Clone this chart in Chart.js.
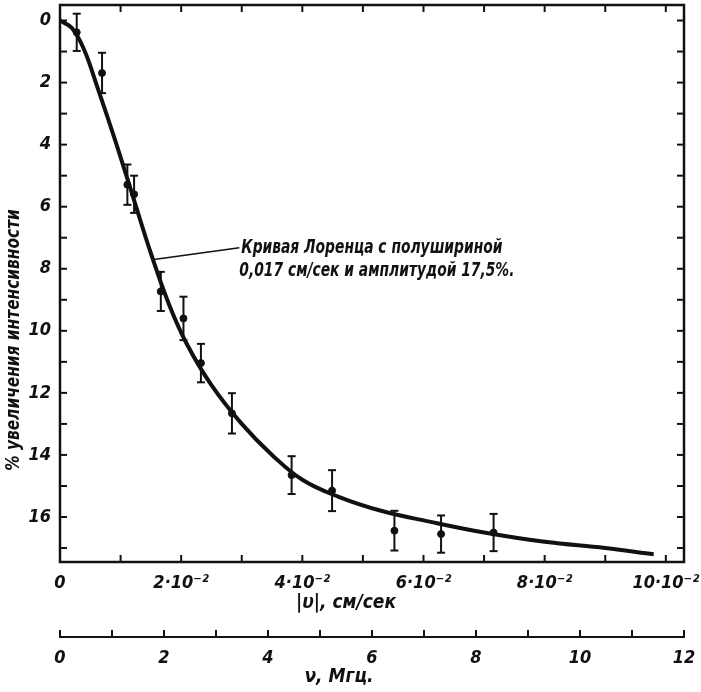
<!DOCTYPE html>
<html>
<head>
<meta charset="utf-8">
<script src="https://cdn.jsdelivr.net/npm/chart.js@4.4.1/dist/chart.umd.min.js"></script>
<style>
  html, body { margin: 0; padding: 0; background: #fff; }
  canvas { display: block; }
</style>
</head>
<body>
<canvas id="chart" width="701" height="692"></canvas>
<script>
// measured points: |v| (cm/sec) and % increase of intensity, with error half-widths
const pointX = [0.00276, 0.00694, 0.01112, 0.01223, 0.01664, 0.02038, 0.02326, 0.02838, 0.03823, 0.04491, 0.0552, 0.0629, 0.07157];
const pointY = [0.38, 1.69, 5.29, 5.6, 8.73, 9.6, 11.04, 12.66, 14.65, 15.15, 16.44, 16.55, 16.5];
const pointErr = [0.6, 0.65, 0.65, 0.6, 0.63, 0.7, 0.62, 0.65, 0.61, 0.66, 0.64, 0.6, 0.6];

// Lorentz curve
const curveX = [0, 0.002, 0.004, 0.006, 0.009, 0.012, 0.015, 0.018, 0.021, 0.025, 0.030, 0.035, 0.040, 0.046, 0.053, 0.061, 0.070, 0.080, 0.090, 0.098];
const curveY = [0, 0.25, 0.95, 2.05, 3.8, 5.65, 7.5, 9.15, 10.45, 11.75, 13.0, 14.0, 14.8, 15.35, 15.8, 16.15, 16.5, 16.8, 17.0, 17.2];

// axes
const velTicks = [0, 0.01, 0.02, 0.03, 0.04, 0.05, 0.06, 0.07, 0.08, 0.09, 0.10];
const velLabels = ['0', '', '2·10⁻²', '', '4·10⁻²', '', '6·10⁻²', '', '8·10⁻²', '', '10·10⁻²'];
const pctTicks = [0, 1, 2, 3, 4, 5, 6, 7, 8, 9, 10, 11, 12, 13, 14, 15, 16, 17];
const pctLabels = ['0', '', '2', '', '4', '', '6', '', '8', '', '10', '', '12', '', '14', '', '16', ''];
const mhzTicks = [0, 1, 2, 3, 4, 5, 6, 7, 8, 9, 10, 11, 12];
const mhzLabels = ['0', '', '2', '', '4', '', '6', '', '8', '', '10', '', '12'];

const FAMILY = "'Liberation Sans Narrow', 'DejaVu Sans Condensed', 'Liberation Sans', sans-serif";
const INK = '#111';
const tickFont = { family: FAMILY, size: 18, weight: 'bold', style: 'italic' };

const setTicks = (values) => (scale) => { scale.ticks = values.map(v => ({ value: v })); };
// fixed box sizes, and no extra room for overhanging labels
const fixSize = (w, h) => (s) => {
    if (w) s.width = w;
    if (h) s.height = h;
    s.paddingLeft = s.paddingRight = s.paddingTop = s.paddingBottom = 0;
};

// narrow italic text
function narrowText(ctx, text, x, y, squeeze) {
    ctx.save();
    ctx.translate(x, y);
    ctx.scale(squeeze, 1);
    ctx.fillText(text, 0, 0);
    ctx.restore();
}

const framePlugin = {
    id: 'frame',
    afterDatasetsDraw(chart) {
        const { ctx, chartArea: a, scales: { x, y, x2 } } = chart;
        const line = (x1, y1, xx, yy) => { ctx.beginPath(); ctx.moveTo(x1, y1); ctx.lineTo(xx, yy); ctx.stroke(); };
        ctx.save();
        ctx.strokeStyle = INK;
        ctx.fillStyle = INK;

        // error bars
        ctx.lineWidth = 2;
        pointX.forEach((v, i) => {
            const px = x.getPixelForValue(v);
            const y1 = y.getPixelForValue(pointY[i] - pointErr[i]);
            const y2 = y.getPixelForValue(pointY[i] + pointErr[i]);
            line(px, y1, px, y2);
            line(px - 4, y1, px + 4, y1);
            line(px - 4, y2, px + 4, y2);
        });

        // frame with inward ticks
        ctx.lineWidth = 2.5;
        ctx.strokeRect(a.left, a.top, a.width, a.height);
        ctx.lineWidth = 2;
        velTicks.forEach(v => {
            const px = x.getPixelForValue(v);
            line(px, a.bottom, px, a.bottom - 7);
            line(px, a.top, px, a.top + 7);
        });
        pctTicks.forEach(v => {
            const py = y.getPixelForValue(v);
            line(a.left, py, a.left + 7, py);
            line(a.right, py, a.right - 7, py);
        });

        // frequency scale
        const ly = x2.top + 23;
        line(x2.getPixelForValue(0) - 1, ly, x2.getPixelForValue(12) + 1, ly);
        mhzTicks.forEach(v => {
            const px = x2.getPixelForValue(v);
            line(px, ly, px, ly - 7);
        });

        // leader line and curve caption
        const sx = x.getPixelForValue(0.0152), sy = y.getPixelForValue(7.71);
        const ex = x.getPixelForValue(0.0296), ey = y.getPixelForValue(7.32);
        ctx.lineWidth = 1.5;
        line(sx, sy, ex, ey);
        ctx.font = `italic bold 19px ${FAMILY}`;
        ctx.textAlign = 'left';
        ctx.textBaseline = 'alphabetic';
        narrowText(ctx, 'Кривая Лоренца с полушириной', ex + 2, ey + 5, 0.81);
        narrowText(ctx, '0,017 см/сек и амплитудой 17,5%.', ex, ey + 28, 0.81);

        // axis titles
        ctx.textAlign = 'center';
        ctx.textBaseline = 'middle';
        ctx.fillText('|υ|, см/сек', 346, x.top + 41);
        ctx.fillText('ν, Мгц.', 339, x2.top + 63);
        ctx.translate(14, 340);
        ctx.rotate(-Math.PI / 2);
        narrowText(ctx, '% увеличения интенсивности', 0, 0, 0.9);
        ctx.restore();
    }
};

new Chart(document.getElementById('chart'), {
    data: {
        datasets: [{
            type: 'line',
            data: curveX.map((v, i) => ({ x: v, y: curveY[i] })),
            borderColor: INK,
            borderWidth: 4,
            pointRadius: 0,
            tension: 0.4,
            xAxisID: 'x',
            yAxisID: 'y'
        }, {
            type: 'scatter',
            data: pointX.map((v, i) => ({ x: v, y: pointY[i] })),
            backgroundColor: INK,
            borderColor: INK,
            pointRadius: 3.5,
            xAxisID: 'x',
            yAxisID: 'y'
        }]
    },
    options: {
        responsive: false,
        animation: false,
        devicePixelRatio: 1,
        layout: { padding: { top: 5, right: 17, bottom: 0, left: 0 } },
        plugins: { legend: { display: false }, tooltip: { enabled: false } },
        scales: {
            x: {
                type: 'linear', position: 'bottom', weight: 0,
                min: 0, max: 0.103,
                afterBuildTicks: setTicks(velTicks),
                afterFit: fixSize(0, 52),
                grid: { display: false, drawTicks: false },
                border: { display: false },
                ticks: { color: INK, font: tickFont, padding: 11, maxRotation: 0, autoSkip: false,
                    callback: (v, i) => velLabels[i] }
            },
            x2: {
                type: 'linear', position: 'bottom', weight: 1,
                min: 0, max: 12,
                afterBuildTicks: setTicks(mhzTicks),
                afterFit: fixSize(0, 78),
                grid: { display: false, drawTicks: false },
                border: { display: false },
                ticks: { color: INK, font: tickFont, padding: 34, maxRotation: 0, autoSkip: false,
                    callback: (v, i) => mhzLabels[i] }
            },
            y: {
                type: 'linear', position: 'left', reverse: true,
                min: -0.5, max: 17.45,
                afterBuildTicks: setTicks(pctTicks),
                afterFit: fixSize(60, 0),
                grid: { display: false, drawTicks: false },
                border: { display: false },
                ticks: { color: INK, font: tickFont, padding: 9, autoSkip: false,
                    callback: (v, i) => pctLabels[i] }
            }
        }
    },
    plugins: [framePlugin]
});
</script>
</body>
</html>
